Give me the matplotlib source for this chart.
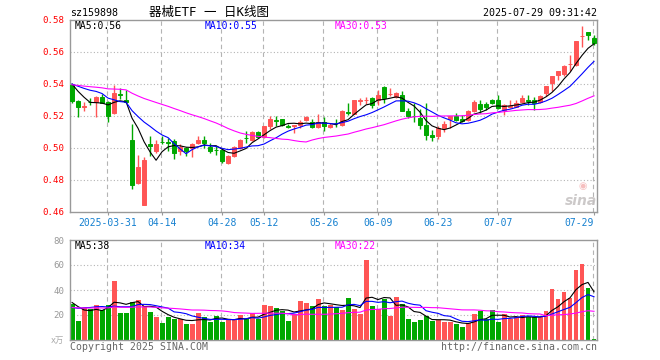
import numpy as np
import pandas as pd
import matplotlib
matplotlib.use("Agg")
from matplotlib import pyplot as plt

# trading days on the chart (weekdays minus exchange holidays)
holidays = ["2025-04-04", "2025-05-01", "2025-05-02", "2025-05-05", "2025-06-02"]
days = pd.bdate_range("2025-03-21", "2025-07-29")
days = days[~days.isin(pd.to_datetime(holidays))]
dates = [d.strftime("%Y-%m-%d") for d in days]

tick_dates = ["2025-03-31", "2025-04-14", "2025-04-28", "2025-05-12", "2025-05-26",
              "2025-06-09", "2025-06-23", "2025-07-07", "2025-07-29"]
tick_labels = ["2025-03-31", "04-14", "04-28", "05-12", "05-26",
               "06-09", "06-23", "07-07", "07-29"]

opens = [0.5395, 0.5295, 0.5255, 0.5290, 0.5288, 0.5317, 0.5288, 0.5217, 0.5336, 0.5302,
         0.5052, 0.4783, 0.4646, 0.5027, 0.4979, 0.5038, 0.5037, 0.5046, 0.4979, 0.5000,
         0.5000, 0.5031, 0.5052, 0.5006, 0.4988, 0.4985, 0.4908, 0.4948, 0.5000, 0.5065,
         0.5048, 0.5098, 0.5067, 0.5135, 0.5173, 0.5181, 0.5136, 0.5135, 0.5142, 0.5177,
         0.5165, 0.5129, 0.5165, 0.5129, 0.5158, 0.5146, 0.5223, 0.5215, 0.5296, 0.5300,
         0.5312, 0.5302, 0.5381, 0.5335, 0.5319, 0.5333, 0.5233, 0.5200, 0.5188, 0.5146,
         0.5083, 0.5077, 0.5125, 0.5183, 0.5198, 0.5181, 0.5177, 0.5229, 0.5277, 0.5277,
         0.5298, 0.5302, 0.5240, 0.5258, 0.5258, 0.5285, 0.5300, 0.5300, 0.5285, 0.5343,
         0.5406, 0.5458, 0.5465, 0.5523, 0.5517, 0.5700, 0.5725, 0.5688]
highs = [0.5400, 0.5300, 0.5290, 0.5310, 0.5327, 0.5337, 0.5295, 0.5396, 0.5375, 0.5365,
         0.5150, 0.4958, 0.4942, 0.5077, 0.5052, 0.5077, 0.5060, 0.5056, 0.5025, 0.5006,
         0.5031, 0.5077, 0.5077, 0.5031, 0.5015, 0.4992, 0.4954, 0.5015, 0.5058, 0.5104,
         0.5104, 0.5104, 0.5140, 0.5202, 0.5202, 0.5183, 0.5150, 0.5146, 0.5173, 0.5202,
         0.5181, 0.5215, 0.5194, 0.5155, 0.5181, 0.5235, 0.5281, 0.5302, 0.5312, 0.5317,
         0.5317, 0.5365, 0.5385, 0.5375, 0.5350, 0.5358, 0.5250, 0.5281, 0.5244, 0.5281,
         0.5115, 0.5135, 0.5171, 0.5198, 0.5219, 0.5208, 0.5240, 0.5298, 0.5302, 0.5290,
         0.5308, 0.5329, 0.5277, 0.5300, 0.5300, 0.5333, 0.5333, 0.5317, 0.5333, 0.5390,
         0.5448, 0.5483, 0.5521, 0.5583, 0.5667, 0.5765, 0.5725, 0.5705]
lows = [0.5280, 0.5195, 0.5230, 0.5270, 0.5194, 0.5280, 0.5163, 0.5210, 0.5306, 0.5280,
        0.4746, 0.4777, 0.4642, 0.4948, 0.4970, 0.5023, 0.4979, 0.4933, 0.4958, 0.4948,
        0.4942, 0.5025, 0.5000, 0.4970, 0.4958, 0.4906, 0.4902, 0.4942, 0.4995, 0.5031,
        0.5042, 0.5060, 0.5060, 0.5121, 0.5135, 0.5135, 0.5125, 0.5094, 0.5125, 0.5171,
        0.5125, 0.5125, 0.5108, 0.5125, 0.5129, 0.5140, 0.5208, 0.5210, 0.5271, 0.5275,
        0.5250, 0.5271, 0.5281, 0.5323, 0.5315, 0.5229, 0.5190, 0.5160, 0.5119, 0.5048,
        0.5042, 0.5058, 0.5098, 0.5125, 0.5171, 0.5160, 0.5171, 0.5225, 0.5219, 0.5240,
        0.5275, 0.5244, 0.5208, 0.5250, 0.5255, 0.5281, 0.5267, 0.5235, 0.5281, 0.5323,
        0.5354, 0.5423, 0.5452, 0.5479, 0.5510, 0.5629, 0.5673, 0.5646]
closes = [0.5295, 0.5255, 0.5265, 0.5285, 0.5317, 0.5281, 0.5198, 0.5346, 0.5333, 0.5285,
          0.4767, 0.4883, 0.4927, 0.5015, 0.5025, 0.5035, 0.5033, 0.4969, 0.5006, 0.4983,
          0.5025, 0.5052, 0.5031, 0.4979, 0.4985, 0.4917, 0.4948, 0.5006, 0.5052, 0.5062,
          0.5098, 0.5067, 0.5135, 0.5181, 0.5171, 0.5146, 0.5134, 0.5142, 0.5162, 0.5194,
          0.5129, 0.5162, 0.5135, 0.5146, 0.5156, 0.5229, 0.5219, 0.5298, 0.5298, 0.5302,
          0.5271, 0.5333, 0.5312, 0.5338, 0.5344, 0.5233, 0.5198, 0.5198, 0.5146, 0.5083,
          0.5067, 0.5125, 0.5152, 0.5198, 0.5177, 0.5167, 0.5233, 0.5285, 0.5246, 0.5254,
          0.5281, 0.5250, 0.5267, 0.5265, 0.5281, 0.5310, 0.5296, 0.5281, 0.5327, 0.5385,
          0.5448, 0.5483, 0.5515, 0.5527, 0.5667, 0.5702, 0.5704, 0.5656]
# volume, in 万
volumes = [28.8, 15.5, 26.0, 24.5, 27.7, 24.0, 27.7, 47.2, 21.9, 21.9,
           30.7, 32.0, 27.5, 22.7, 18.7, 13.9, 18.7, 17.0, 16.5, 12.8,
           12.8, 21.6, 18.1, 14.7, 19.2, 14.4, 16.5, 16.5, 19.7, 17.0,
           21.3, 17.0, 28.0, 27.2, 25.6, 23.5, 15.2, 20.5, 31.2, 29.9,
           27.2, 32.8, 27.2, 28.0, 26.1, 24.0, 33.9, 24.8, 21.0, 64.0,
           27.2, 24.8, 32.8, 19.5, 34.4, 28.8, 16.8, 14.4, 16.0, 19.5,
           15.2, 16.0, 14.4, 14.4, 12.8, 10.4, 13.9, 20.8, 23.5, 16.5,
           24.0, 14.4, 20.5, 16.5, 18.1, 20.0, 18.1, 18.1, 18.1, 23.2,
           40.8, 32.8, 38.4, 33.6, 56.0, 60.8, 41.6, 0.8]

# sessions before the window, estimated from where the MA lines start
prior_close = [0.538, 0.539, 0.540, 0.541, 0.540, 0.539, 0.538, 0.538, 0.539, 0.540,
               0.540, 0.539, 0.539, 0.540, 0.540, 0.539, 0.538, 0.539, 0.540, 0.540,
               0.539, 0.540, 0.540, 0.539, 0.5415, 0.5485, 0.5450, 0.5445, 0.5325]
prior_vol = [25, 27, 26, 24, 27, 26, 25, 28, 26, 25, 27, 26, 26, 25, 27, 26, 25, 27, 26, 26,
             22, 21, 23, 22, 22, 32, 39.5, 27, 22.7]

RED = "#ff5555"
GREEN = "#00a800"
MA_COLORS = {5: "black", 10: "#0000ff", 30: "#ff00ff"}
GRID = "#b4b4b4"
MONO = "DejaVu Sans Mono"


def moving_avgs(prior, vals):
    s = pd.Series(list(prior) + list(vals))
    return {n: s.rolling(n).mean().iloc[len(prior):].to_numpy() for n in (5, 10, 30)}


x = np.arange(len(dates))
o, h, l, c = map(np.array, (opens, highs, lows, closes))
up = c >= o
colors = np.where(up, RED, GREEN)
ma_p = moving_avgs(prior_close, closes)
ma_v = moving_avgs(prior_vol, volumes)
tick_pos = [dates.index(d) for d in tick_dates]

W, H = 660, 360
fig = plt.figure(figsize=(6.6, 3.6), dpi=100)


def fx(px):
    return px / W


def fy(py):
    return 1 - py / H


ax = fig.add_axes([fx(70), fy(212), fx(597) - fx(70), fy(20) - fy(212)])
axv = fig.add_axes([fx(70), fy(340), fx(597) - fx(70), fy(240) - fy(340)])

for a in (ax, axv):
    a.set_xlim(-0.35, len(dates) - 0.5)
    for sp in a.spines.values():
        sp.set_color("#999999")
        sp.set_linewidth(1.0)
    for p in tick_pos:
        a.axvline(p - 0.17, color=GRID, lw=0.8, ls=(0, (4, 3)), zorder=0)

# price panel
ax.set_ylim(0.46, 0.58)
yt = np.round(np.arange(0.46, 0.5801, 0.02), 2)
ax.set_yticks(yt)
ax.set_yticklabels(["%.2f" % v for v in yt], color="red", fontsize=6.6, family=MONO)
for v in yt[1:-1]:
    ax.axhline(v, color=GRID, lw=0.8, ls=(0, (1, 2)), zorder=0)
ax.tick_params(axis="y", length=0, pad=4)
ax.set_xticks(tick_pos)
ax.set_xticklabels(tick_labels, color="#1580d0", fontsize=7, family=MONO)
ax.tick_params(axis="x", length=2, color="#999999", pad=2)
ax.get_xticklabels()[-1].set_ha("right")

ax.vlines(x, l, h, colors=colors, lw=1.0, zorder=2)
ax.bar(x, np.abs(c - o), bottom=np.minimum(o, c), width=0.68, color=colors,
       edgecolor=colors, linewidth=0.7, zorder=3)
for n in (5, 10, 30):
    ax.plot(x, ma_p[n], color=MA_COLORS[n], lw=0.8, zorder=4)

# sina watermark
fig.text(fx(583), fy(186), "◉", color="#f4b0b0", fontsize=7, ha="center", va="center",
         alpha=0.8)
fig.text(fx(581), fy(201), "sina", color="#c4c0c0", fontsize=10, fontweight="bold",
         style="italic", ha="center", va="center", alpha=0.85)

# volume panel
axv.set_ylim(0, 80)
axv.set_yticks([20, 40, 60, 80])
axv.set_yticklabels(["20", "40", "60", "80"], color="#999999", fontsize=6.6, family=MONO)
for v in (20, 40, 60):
    axv.axhline(v, color=GRID, lw=0.8, ls=(0, (1, 2)), zorder=0)
axv.tick_params(axis="y", length=0, pad=4)
axv.set_xticks([])
axv.bar(x, volumes, width=0.83, color=colors, linewidth=0, zorder=2)
for n in (5, 10, 30):
    axv.plot(x, ma_v[n], color=MA_COLORS[n], lw=0.8, zorder=4)

# header and labels
fig.text(fx(70), fy(13), "sz159898", family=MONO, fontsize=7.2, va="center")
fig.text(fx(209), fy(12.5), "器械ETF 一 日K线图", family=[MONO, "Noto Sans CJK SC"],
         fontsize=9, ha="center", va="center")
fig.text(fx(597), fy(12.5), "2025-07-29 09:31:42", family=MONO, fontsize=7.2,
         ha="right", va="center")

for (n, px) in zip((5, 10, 30), (75, 205, 335)):
    fig.text(fx(px), fy(26), "MA%d:%.2f" % (n, np.floor(ma_p[n][-1] * 100) / 100),
             color=MA_COLORS[n], family=MONO, fontsize=7, va="center")
    fig.text(fx(px), fy(246), "MA%d:%d" % (n, int(ma_v[n][-1])),
             color=MA_COLORS[n], family=MONO, fontsize=7, va="center")

fig.text(fx(64), fy(340), "x万", family=["DejaVu Sans", "Noto Sans CJK SC"], fontsize=6,
         color="#aaaaaa", ha="right", va="center")
fig.text(fx(70), fy(346.5), "Copyright 2025 SINA.COM", family=MONO, fontsize=7.1,
         color="#666666", va="center")
fig.text(fx(597), fy(346.5), "http://finance.sina.com.cn", family=MONO, fontsize=7.1,
         color="#666666", ha="right", va="center")

fig.savefig("out.png", dpi=100)
